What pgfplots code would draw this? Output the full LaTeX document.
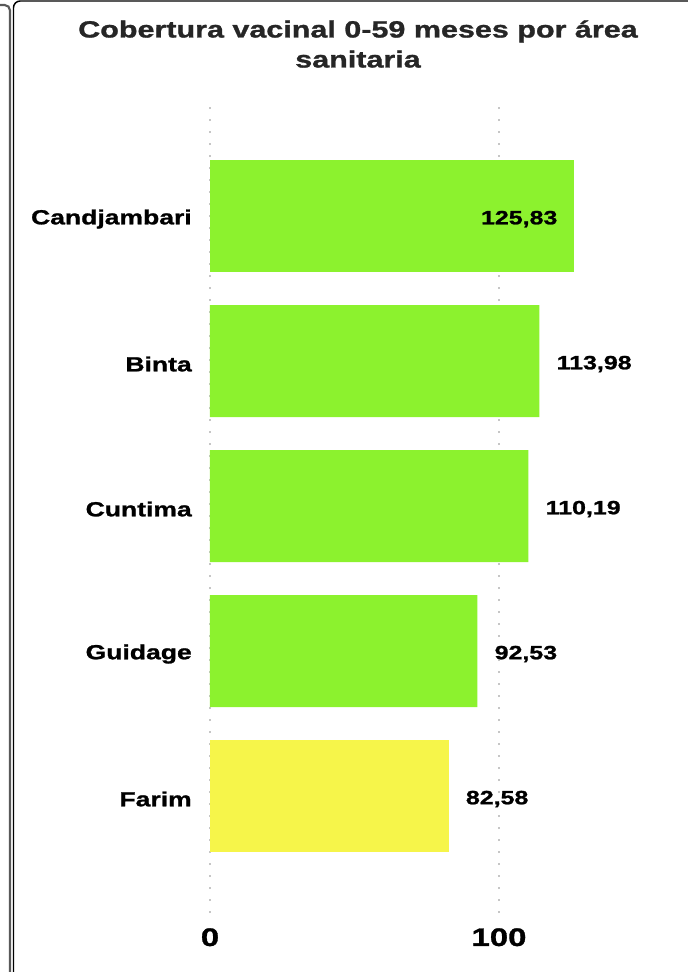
\documentclass[border=0pt]{standalone}
\usepackage{fontspec}
\newfontfamily\cf{Liberation Sans}[FakeStretch=1.3, FakeBold=1.2]
\usepackage{pgfplots}
\pgfplotsset{compat=1.18}
\definecolor{barg}{HTML}{8CF22E}
\definecolor{bary}{HTML}{F6F54A}

\begin{document}
\begin{tikzpicture}[x=0.75pt,y=-0.75pt]
\path[use as bounding box] (0,0) rectangle (687,972);
% panel frames
\draw[line width=1.6pt, black!65, rounded corners=4pt] (-2,5) -- (10,5) -- (10,980);
\draw[line width=1.1pt, black, rounded corners=5pt] (13.5,980) -- (13.5,1) -- (695,1);
\node[font=\cf\bfseries\fontsize{17.6}{22.5}\selectfont, text=black!85, align=center]
  at (358,44) {Cobertura vacinal 0-59 meses por área\\sanitaria};
\begin{axis}[
  at={(157.5pt,-684.75pt)}, anchor=south west,
  scale only axis, width=325.125pt, height=606pt,
  xmin=0, xmax=150, ymin=-0.807, ymax=4.766,
  xtick={0,100}, xticklabels={0,100},
  ytick={0,1,2,3,4}, yticklabels={Farim,Guidage,Cuntima,Binta,Candjambari},
  axis line style={draw=none}, major tick length=0pt,
  xmajorgrids, grid style={gray!45, line width=1.3pt, dash pattern=on 1.3pt off 7.7pt},
  xticklabel style={font=\cf\bfseries\fontsize{19}{19}\selectfont, anchor=north, inner sep=0pt, yshift=-11.25pt},
  yticklabel style={font=\cf\bfseries\fontsize{15.3}{15.3}\selectfont, anchor=east, inner sep=0pt, xshift=-13.5pt, yshift=-2.25pt},
  xbar, bar width=84pt, bar shift=0pt,
  nodes near coords, point meta=explicit symbolic,
  every node near coord/.append style={font=\cf\bfseries\fontsize{14.4}{14.4}\selectfont, text=black, inner sep=0pt, anchor=west, xshift=12.75pt, yshift=-2.25pt},
]
\addplot[fill=barg, draw=none, every node near coord/.append style={anchor=east, xshift=-24.75pt}] table[meta=l] {
x y l
125.83 4 125,83
};
\addplot[fill=barg, draw=none] table[meta=l] {
x y l
113.98 3 113,98
110.19 2 110,19
92.53 1 92,53
};
\addplot[fill=bary, draw=none] table[meta=l] {
x y l
82.58 0 82,58
};
\end{axis}
\end{tikzpicture}
\end{document}
